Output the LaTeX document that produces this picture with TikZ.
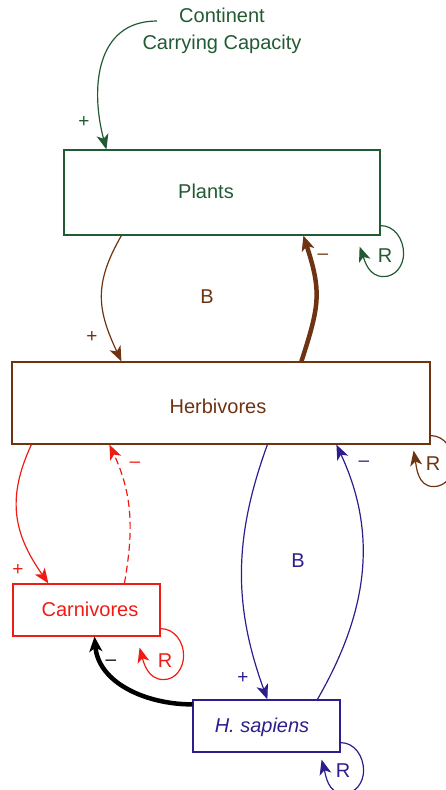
\documentclass[tikz,border=0pt]{standalone}
\usepackage{fontspec}
\setmainfont{Liberation Sans}
\usetikzlibrary{arrows.meta}
\definecolor{grn}{RGB}{34,90,52}
\definecolor{brn}{RGB}{110,52,18}
\definecolor{red1}{RGB}{240,28,20}
\definecolor{blu}{RGB}{44,30,140}
\tikzset{
  box/.style={draw,line width=1.2pt,inner sep=0pt},
  lnk/.style={line width=1.2pt,-{Stealth[length=15pt,width=12pt,inset=4pt]}},
  thk/.style={line width=4.5pt,-{Stealth[length=15pt,width=13pt,inset=4pt]}},
  lbl/.style={font=\fontsize{20}{22}\selectfont,inner sep=0pt},
  sgn/.style={font=\fontsize{19}{20}\selectfont,inner sep=0pt},
}
\begin{document}
\begin{tikzpicture}[x=1pt,y=-1pt]
\useasboundingbox (0,0) rectangle (446,790);
% boxes
\node[box,grn,minimum width=316pt,minimum height=85pt] (plants) at (222,192.5) {};
\node[lbl,grn] (plantsT) at (206,191) {Plants};
\node[box,brn,minimum width=418pt,minimum height=82pt] (herb) at (221,403) {};
\node[lbl,brn] (herbT) at (218,406) {Herbivores};
\node[box,red1,minimum width=147pt,minimum height=52pt] (carn) at (86.5,610) {};
\node[lbl,red1] (carnT) at (90,609) {Carnivores};
\node[box,blu,minimum width=147pt,minimum height=52pt] (hs) at (266.5,726) {};
\node[lbl,blu] (hsT) at (262,727) {\itshape H. sapiens};
% continent
\node[lbl,grn,align=center,font=\fontsize{20}{27}\selectfont] (cc) at (222,31) {Continent\\Carrying Capacity};
\coordinate (ccout) at (157,21);
\draw[lnk,grn] (ccout) to[out=180,in=105,looseness=1.15] ([xshift=43pt]plants.north west);
\node[sgn,grn] at (84,122) {+};
% plants -> herbivores
\draw[lnk,brn] ([xshift=58pt]plants.south west) to[out=240,in=115,looseness=1.15] ([xshift=110pt]herb.north west);
\node[sgn,brn] at (92,337) {+};
\node[lbl,brn] at (207,297) {B};
% herbivores -> plants thick
\draw[thk,brn] ([xshift=290pt]herb.north west) to[out=72,in=-72,looseness=1.2] ([xshift=240pt]plants.south west);
\node[sgn,brn] at (323,257) {\textendash};
% plants loop
\draw[lnk,grn] ([yshift=10pt]plants.south east) to[out=0,in=90] ++(23,28) to[out=-90,in=0] ++(-20,23) to[out=180,in=-70] ++(-24,-30);
\node[lbl,grn] at (385,256) {R};
% herbivores loop
\draw[lnk,brn] ([yshift=9pt]herb.south east) to[out=0,in=90] ++(23,28) to[out=-90,in=0] ++(-20,23) to[out=180,in=-80] ++(-20,-36);
\node[lbl,brn] at (433,464) {R};
% herbivores -> carnivores
\draw[lnk,red1] ([xshift=20pt]herb.south west) to[out=245,in=125,looseness=1.1] ([xshift=36pt]carn.north west);
\node[sgn,red1] at (18,570) {+};
% carnivores -> herbivores dashed
\draw[lnk,red1,dash pattern=on 7pt off 4pt] ([xshift=112pt]carn.north west) to[out=80,in=-65] ([xshift=98pt]herb.south west);
\node[sgn,red1] at (135,465) {\textendash};
% carnivores loop
\draw[lnk,red1] ([yshift=8pt]carn.south east) to[out=0,in=90] ++(23,27) to[out=-90,in=0] ++(-20,24) to[out=180,in=-75] ++(-24,-32);
\node[lbl,red1] at (165,661) {R};
% herbivores -> H sapiens
\draw[lnk,blu] ([xshift=256pt]herb.south west) to[out=250,in=110] ([xshift=75pt]hs.north west);
\node[sgn,blu] at (243,678) {+};
\node[lbl,blu] at (298,561) {B};
% H sapiens -> herbivores
\draw[lnk,blu] ([xshift=125pt]hs.north west) to[out=60,in=-65] ([xshift=325pt]herb.south west);
\node[sgn,blu] at (364,464) {\textendash};
% H sapiens loop
\draw[lnk,blu] ([yshift=10pt]hs.south east) to[out=0,in=90] ++(23,28) to[out=-90,in=0] ++(-20,23) to[out=180,in=-75] ++(-22,-34);
\node[lbl,blu] at (343,771) {R};
% H sapiens -> carnivores thick
\draw[thk,black] ([yshift=-5pt]hs.north west) to[out=180,in=-85] ([xshift=8pt]carn.south);
\node[sgn,black] at (111,663) {\textendash};
\end{tikzpicture}
\end{document}
